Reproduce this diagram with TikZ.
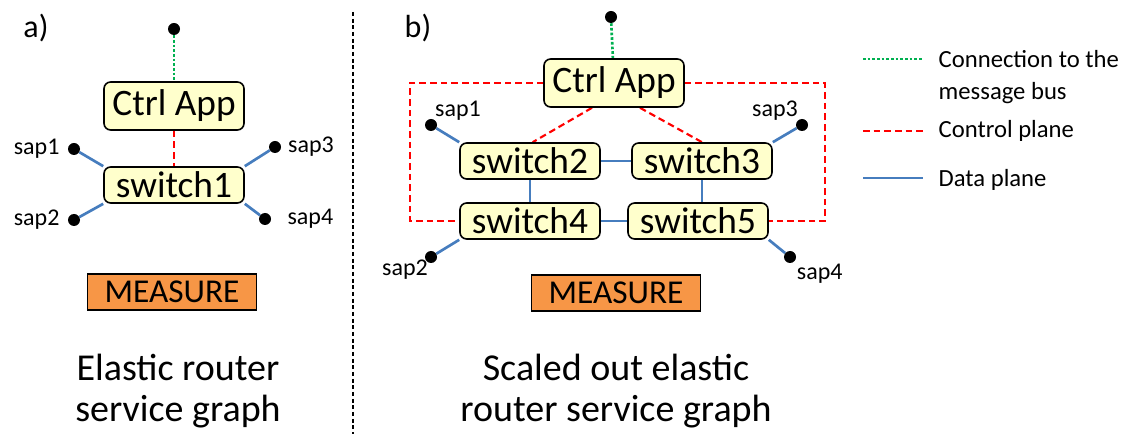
\documentclass[tikz,border=0pt]{standalone}
\usepackage{fontspec}
\setmainfont{Carlito}
\usepackage{tikz}
\usetikzlibrary{positioning,backgrounds}
\definecolor{boxyellow}{RGB}{255,255,204}
\definecolor{measureorange}{RGB}{247,150,70}
\definecolor{busgreen}{RGB}{0,176,80}
\definecolor{dataplane}{RGB}{70,125,190}
\tikzset{
    swbox/.style={
        draw,
        rounded corners=5pt,
        fill=boxyellow,
        line width=1.2pt,
        inner sep=0pt,
        minimum width=105pt,
        minimum height=27pt,
        font=\fontsize{28}{30}\selectfont
    },
    ctrlbox/.style={swbox, minimum height=36pt},
    measurebox/.style={
        draw,
        fill=measureorange,
        line width=1.2pt,
        inner sep=0pt,
        minimum width=127pt,
        minimum height=27pt,
        font=\fontsize{25}{27}\selectfont
    },
    sap/.style={circle, fill=black, inner sep=0pt, minimum size=9pt},
    buslink/.style={draw=busgreen, line width=2pt, dash pattern=on 2pt off 1.5pt},
    ctrllink/.style={draw=red, line width=1.6pt, dash pattern=on 5pt off 3pt},
    datalink/.style={draw=dataplane, line width=2pt},
    caption/.style={align=center, font=\fontsize{28.5}{31}\selectfont},
    panel/.style={font=\fontsize{24}{26}\selectfont},
    legendtext/.style={anchor=west, align=left, font=\fontsize{18.5}{24.5}\selectfont},
    every label/.style={font=\fontsize{18}{20}\selectfont, inner sep=1pt}
}

\begin{document}
\begin{tikzpicture}[x=0.75pt, y=-0.75pt]
  \useasboundingbox (0,0) rectangle (1124,434);

  % a) single switch
  \node[panel] (lbla) at (36,28) {a)};
  \node[sap] (busa) at (174,29) {};
  \node[ctrlbox] (ctrla) at (174,106) {Ctrl App};
  \node[swbox] (sw1) at (174,185) {switch1};
  \node[sap, label={[label distance=5pt]left:sap1}] (sapa1) at (74,149) {};
  \node[sap, label={[label distance=5pt]left:sap2}] (sapa2) at (74,220) {};
  \node[sap, label={[label distance=4pt]right:sap3}] (sapa3) at (275,147) {};
  \node[sap, label={[label distance=11pt]right:sap4}] (sapa4) at (265,219) {};
  \node[measurebox] (measa) at (172,292) {MEASURE};
  \node[caption] (capa) at (178,391) {Elastic router\\service graph};

  \draw[dash pattern=on 3pt off 2pt, line width=0.8pt] (353,12) -- (353,434);

  % b) scaled out
  \node[panel] (lblb) at (418,28) {b)};
  \node[sap] (busb) at (611,17) {};
  \node[ctrlbox] (ctrlb) at (614,83) {Ctrl App};
  \node[swbox] (sw2) at (530,161) {switch2};
  \node[swbox] (sw3) at (702,161) {switch3};
  \node[swbox] (sw4) at (530,221) {switch4};
  \node[swbox] (sw5) at (698,221) {switch5};
  \node[sap, label={[label distance=-2pt]above right:sap1}] (sapb1) at (431,125) {};
  \node[sap, label={[label distance=-3pt]below left:sap2}] (sapb2) at (431,257) {};
  \node[sap, label={[label distance=-2pt]above left:sap3}] (sapb3) at (802,125) {};
  \node[sap, label={[label distance=1pt]below right:sap4}] (sapb4) at (790,257) {};
  \node[measurebox] (measb) at (616,293) {MEASURE};
  \node[caption] (capb) at (616,391) {Scaled out elastic\\router service graph};
  \coordinate (cornerl) at (410,221);
  \coordinate (cornerr) at (825,221);

  % legend
  \coordinate (lgbus1) at (863,59);  \coordinate (lgbus2) at (923,59);
  \coordinate (lgctrl1) at (863,131); \coordinate (lgctrl2) at (923,131);
  \coordinate (lgdata1) at (863,178); \coordinate (lgdata2) at (923,178);
  \node[legendtext] (lgbus) at (934,77) {Connection to the\\message bus};
  \node[legendtext] (lgctrl) at (934,131) {Control plane};
  \node[legendtext] (lgdata) at (934,180) {Data plane};

  \begin{scope}[on background layer]
    \draw[buslink] (busa) -- (ctrla);
    \draw[ctrllink] (ctrla) -- (sw1);
    \foreach \s/\c in {sapa1/north west, sapa2/south west, sapa3/north east, sapa4/south east}
      \draw[datalink] (\s) -- (sw1.\c);

    \draw[buslink] (busb) -- (ctrlb);
    \draw[ctrllink] (ctrlb.west) -| (cornerl) -- (sw4.west);
    \draw[ctrllink] (ctrlb.east) -| (cornerr) -- (sw5.east);
    \draw[ctrllink] ([xshift=-16.5pt]ctrlb.south) -- ([xshift=2pt]sw2.north);
    \draw[ctrllink] ([xshift=19.5pt]ctrlb.south) -- (sw3.north);
    \draw[datalink] (sw2) -- (sw3);
    \draw[datalink] (sw4) -- (sw5);
    \draw[datalink] (sw2) -- (sw4);
    \draw[datalink] (sw3.south) -- (sw3.south |- sw5.north);
    \draw[datalink] (sapb1) -- (sw2.north west);
    \draw[datalink] (sapb2) -- (sw4.south west);
    \draw[datalink] (sapb3) -- (sw3.north east);
    \draw[datalink] (sapb4) -- (sw5.south east);

    \draw[buslink] (lgbus1) -- (lgbus2);
    \draw[ctrllink] (lgctrl1) -- (lgctrl2);
    \draw[datalink] (lgdata1) -- (lgdata2);
  \end{scope}
\end{tikzpicture}
\end{document}
